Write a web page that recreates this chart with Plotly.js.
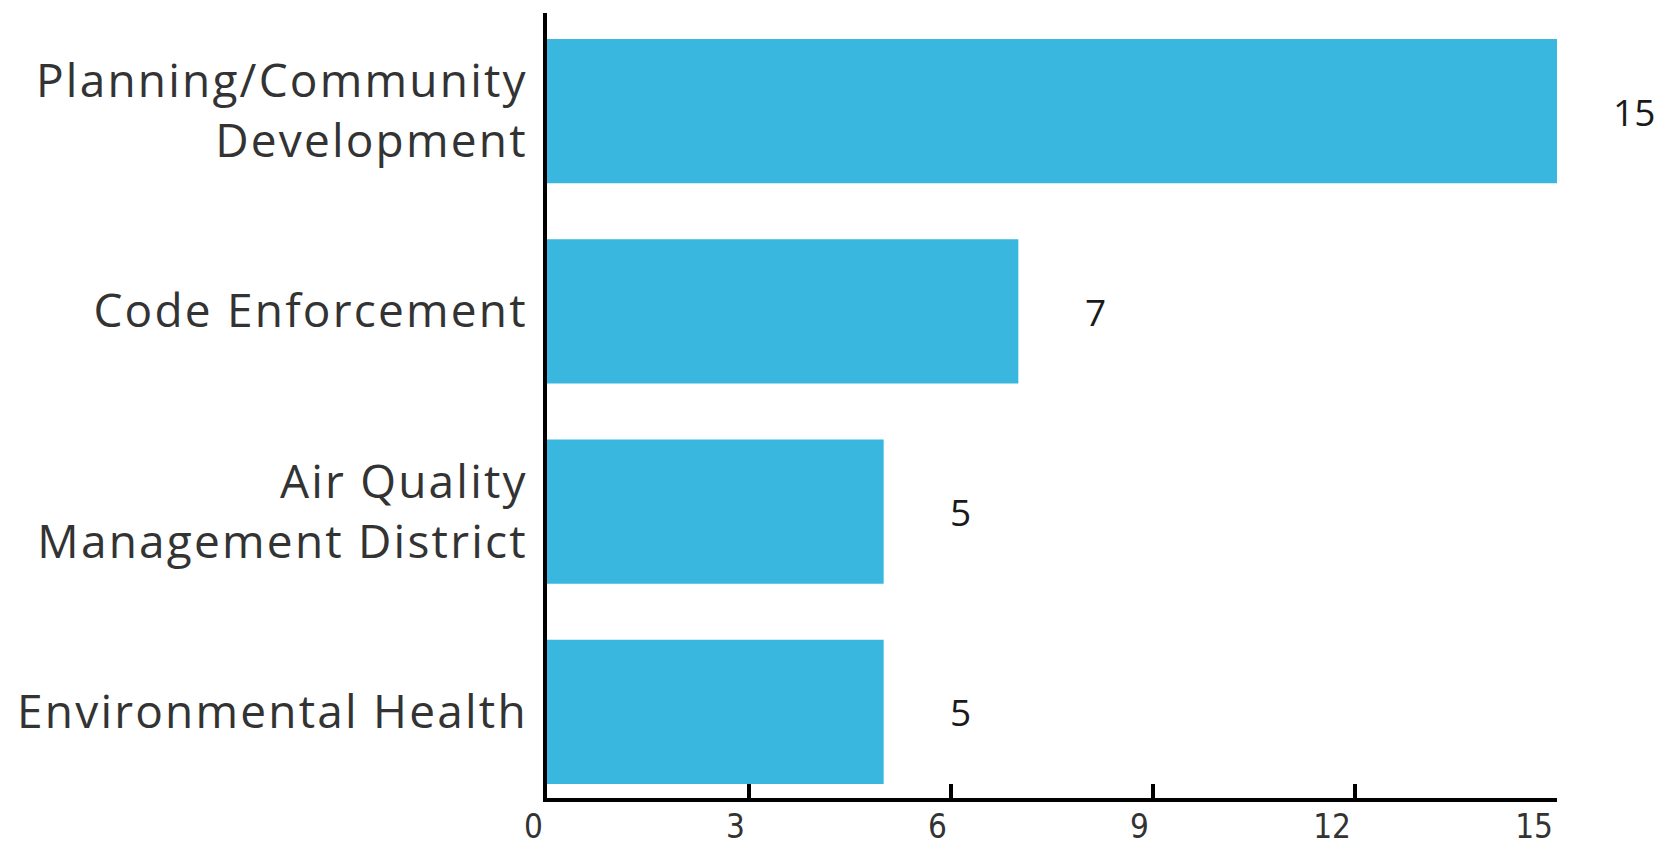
<!DOCTYPE html>
<html>
<head>
<meta charset="utf-8">
<script src="https://cdn.plot.ly/plotly-3.0.1.min.js"></script>
<style>
html,body{margin:0;padding:0;background:#fff;}
#chart{width:1663px;height:850px;}
#chart .ytick text{letter-spacing:2.2px;}
</style>
</head>
<body>
<div id="chart"></div>
<script>
const categories = ["Planning/Community<br>Development", "Code Enforcement", "Air Quality<br>Management District", "Environmental Health"];
const values = [15, 7, 5, 5];
const xTicks = [0, 3, 6, 9, 12, 15];
const barColor = "#3AB7DE";

const trace = {
  type: "bar",
  orientation: "h",
  y: categories,
  x: values,
  marker: {color: barColor},
  hoverinfo: "x+y"
};

const annotations = categories.map((c, i) => ({
  x: values[i], y: c, xref: "x", yref: "y",
  text: String(values[i]), showarrow: false,
  xanchor: "center", yanchor: "middle", xshift: 77,
  font: {family: "Open Sans, sans-serif", size: 37, color: "#1a1a1a"}
}));

const layout = {
  width: 1663, height: 850,
  margin: {l: 547, r: 106, t: 13, b: 52},
  paper_bgcolor: "#fff", plot_bgcolor: "#fff",
  showlegend: false,
  bargap: 0.28,
  xaxis: {
    range: [0, 15], tickvals: xTicks, ticktext: xTicks.map(String),
    showgrid: false, zeroline: false,
    showline: true, linecolor: "#000", linewidth: 4,
    ticks: "inside", ticklen: 14, tickwidth: 4, tickcolor: "#000",
    ticklabelposition: "outside left", ticklabelstandoff: -4,
    tickfont: {family: "Liberation Sans Narrow, DejaVu Sans Condensed, sans-serif", size: 33, color: "#333"}
  },
  yaxis: {
    type: "category", categoryorder: "array", categoryarray: categories,
    range: [3.43, -0.49],
    showgrid: false, zeroline: false,
    showline: true, linecolor: "#000", linewidth: 4,
    ticks: "", ticklabelstandoff: 6,
    tickfont: {family: "Open Sans, sans-serif", size: 46, color: "#333"}
  },
  annotations: annotations
};

Plotly.newPlot("chart", [trace], layout, {displayModeBar: false, staticPlot: true});
</script>
</body>
</html>
